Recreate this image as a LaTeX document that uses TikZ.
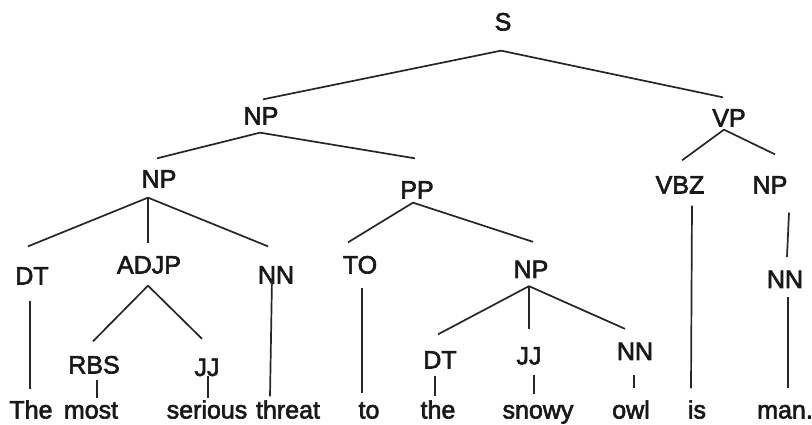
\documentclass[tikz,border=0pt]{standalone}
\usepackage{fontspec}
\setmainfont{Liberation Sans}
\newfontfamily\treefont[FakeBold=2.5]{Liberation Sans}
\usetikzlibrary{calc}
\begin{document}
\begin{tikzpicture}[x=1pt,y=-1pt,
  lbl/.style={inner sep=0pt,text height=17.9pt,text depth=0pt,text=black!90,font=\treefont\fontsize{25}{25}\selectfont},
  br/.style={line width=1.7pt,draw=black!85}]
\useasboundingbox (0,0) rectangle (812,425);
% labels
\node[lbl] (S) at (503,21.5) {S};
\node[lbl] (np1) at (261,115.5) {NP};
\node[lbl] (vp) at (729,117.5) {VP};
\node[lbl] (np2) at (159,178.5) {NP};
\node[lbl] (pp) at (417,189.5) {PP};
\node[lbl] (vbz) at (680,184.5) {VBZ};
\node[lbl] (npr) at (770,184.5) {NP};
\node[lbl] (nnr) at (785,279) {NN};
\node[lbl] (dta) at (32,275.5) {DT};
\node[lbl] (adjp) at (149,264.5) {ADJP};
\node[lbl] (nna) at (276,274.5) {NN};
\node[lbl] (to) at (360,264.5) {TO};
\node[lbl] (rbs) at (94,364.5) {RBS};
\node[lbl] (jja) at (207,367) {JJ};
\node[lbl] (np3) at (531,269) {NP};
\node[lbl] (dtb) at (440,359.5) {DT};
\node[lbl] (jjb) at (529,355.5) {JJ};
\node[lbl] (nnb) at (635,351) {NN};
% words
\node[lbl] (wThe) at (31,409.5) {The};
\node[lbl] (wmost) at (91,409.5) {most};
\node[lbl] (wserious) at (207,409.5) {serious};
\node[lbl] (wthreat) at (288,409.5) {threat};
\node[lbl] (wto) at (369,409.5) {to};
\node[lbl] (wthe) at (438,409.5) {the};
\node[lbl] (wsnowy) at (538,409.5) {snowy};
\node[lbl] (wowl) at (631,409.5) {owl};
\node[lbl] (wis) at (697,409.5) {is};
\node[lbl] (wman) at (785,409.5) {man.};
% branches
\draw[br] ($(S.south)+(-2,20)$) -- ($(np1.north)+(2,-7)$);
\draw[br] ($(S.south)+(-2,20)$) -- ($(vp.north)+(-6,-11)$);
\draw[br] ($(np1.south)+(-1,8)$) -- ($(np2.north)+(-2,-11)$);
\draw[br] ($(np1.south)+(-1,8)$) -- ($(pp.north)+(-2,-22)$);
\draw[br] ($(vp.south)+(-5,3)$) -- ($(vbz.north)+(2,-15)$);
\draw[br] ($(vp.south)+(-5,3)$) -- ($(npr.north)+(5,-21)$);
\draw[br] ($(vbz.south)+(12,12)$) -- ($(wis.north)+(-6,-12)$);
\draw[br] ($(npr.south)+(19,19)$) -- ($(nnr.north)+(2,-13)$);
\draw[br] ($(nnr.south)+(3,9)$) -- ($(wman.north)+(3,-12)$);
\draw[br] ($(np2.south)+(-11,10)$) -- ($(dta.north)+(-4,-20)$);
\draw[br] ($(np2.south)+(-11,10)$) -- ($(adjp.north)+(-1,-12)$);
\draw[br] ($(np2.south)+(-11,10)$) -- ($(nna.north)+(-8,-19)$);
\draw[br] ($(dta.south)+(-2,16)$) -- ($(wThe.north)+(-1,-11)$);
\draw[br] ($(adjp.south)+(-1,12)$) -- ($(rbs.north)+(-1,-14)$);
\draw[br] ($(adjp.south)+(-1,12)$) -- ($(jja.north)+(-5,-19)$);
\draw[br] ($(rbs.south)+(3,6)$) -- ($(wmost.north)+(6,-2)$);
\draw[br] ($(jja.south)+(1,0)$) -- ($(wserious.north)+(1,-2)$);
\draw[br] ($(nna.center)+(-4,4.5)$) -- ($(wthreat.north)+(-18,-4)$);
\draw[br] ($(pp.south)+(-4,4)$) -- ($(to.north)+(-12,-13)$);
\draw[br] ($(pp.south)+(-4,4)$) -- ($(np3.north)+(2,-18)$);
\draw[br] ($(to.south)+(2,14)$) -- ($(wto.north)+(-7,-7)$);
\draw[br] ($(np3.south)+(-2,8)$) -- ($(dtb.north)+(-2,-16)$);
\draw[br] ($(np3.south)+(-2,8)$) -- ($(jjb.north)+(0,-17)$);
\draw[br] ($(np3.south)+(-2,8)$) -- ($(nnb.north)+(-10,-13)$);
\draw[br] ($(dtb.south)+(-5,7)$) -- ($(wthe.north)+(-3,-4)$);
\draw[br] ($(jjb.south)+(5,10)$) -- ($(wsnowy.north)+(-4,-6)$);
\draw[br] ($(nnb.south)+(-1,15)$) -- ($(wowl.north)+(3,-12)$);
\end{tikzpicture}
\end{document}
